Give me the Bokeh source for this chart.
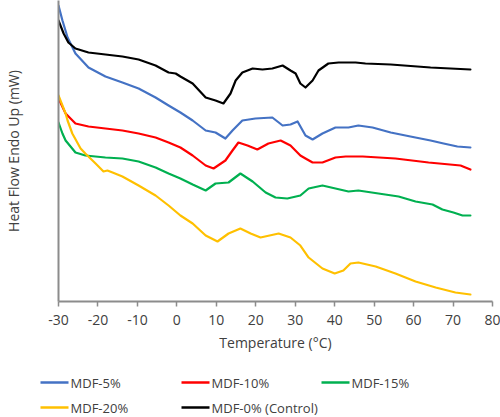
from bokeh.plotting import figure
from bokeh.layouts import column
from bokeh.models import Range1d, FixedTicker
from bokeh.core.properties import value
from bokeh.embed import file_html
from bokeh.resources import INLINE

# Temperature (°C) and heat flow (arbitrary mW offset units)
temp_0 = [-30, -28.7, -27.5, -25.7, -22.4, -18.1, -13.8, -9.7, -5.4, -2.1, -0.3, 0.9, 4.0, 7.3, 9.8,
          11.8, 13.6, 14.9, 16.6, 19.2, 21.7, 24.2, 26.8, 28.8, 30.1, 31.3, 32.6, 34.4, 35.9, 38.4,
          41.0, 45.3, 47.8, 54.2, 64.3, 74.4]
heat_0 = [281, 268, 259, 253, 249, 247, 245, 242, 236, 229, 228, 225, 218, 204, 201,
          198, 208, 221, 229, 233, 232, 233, 236, 231, 228, 218, 214, 221, 231, 238,
          239, 239, 238, 237, 234, 232]

temp_5 = [-30, -29.0, -27.7, -25.7, -22.4, -18.1, -13.8, -9.7, -5.4, -2.1, 0.9, 4.0, 7.3, 9.8, 12.3,
          14.1, 16.6, 19.9, 24.2, 26.8, 28.8, 30.6, 32.6, 34.4, 36.9, 40.2, 43.5, 46.0, 49.6, 54.2,
          59.2, 64.3, 67.6, 71.1, 74.4]
heat_5 = [296, 281, 264, 248, 234, 225, 219, 213, 204, 196, 189, 181, 171, 169, 163,
          171, 181, 183, 184, 176, 177, 180, 166, 162, 168, 174, 174, 176, 174, 169,
          165, 161, 158, 155, 154]

temp_10 = [-30, -28.2, -25.7, -22.4, -18.1, -13.8, -9.7, -5.4, -2.1, 0.9, 4.0, 7.3, 9.3, 12.3, 14.1,
           15.6, 17.9, 20.4, 23.2, 26.3, 28.8, 31.3, 32.6, 34.4, 36.9, 40.2, 42.8, 47.1, 55.4, 63.8,
           71.9, 74.4]
heat_10 = [203, 188, 178, 175, 173, 171, 168, 164, 159, 154, 146, 136, 133, 141, 151,
           159, 156, 152, 158, 161, 156, 146, 143, 139, 139, 144, 145, 145, 143, 139,
           136, 132]

temp_15 = [-30, -29.0, -28.2, -25.7, -23.2, -18.1, -13.8, -9.7, -5.4, -2.1, 0.9, 4.0, 7.3, 9.8, 13.1,
           16.1, 19.2, 22.5, 25.0, 28.0, 31.3, 33.4, 36.9, 40.2, 43.5, 46.0, 51.1, 56.2, 60.5, 64.8,
           67.3, 70.1, 72.4, 74.4]
heat_15 = [179, 168, 161, 149, 146, 144, 143, 140, 134, 128, 123, 117, 111, 118, 119,
           128, 120, 109, 104, 103, 106, 113, 116, 113, 110, 111, 108, 105, 100, 97,
           92, 89, 86, 86]

temp_20 = [-30, -28.2, -27.7, -26.5, -24.4, -23.2, -20.6, -18.6, -17.6, -16.3, -13.8, -9.7, -5.4, -2.1,
           0.9, 4.0, 7.3, 10.3, 13.1, 16.1, 18.7, 21.2, 25.8, 28.8, 31.3, 33.4, 36.9, 40.0, 42.2,
           44.0, 46.0, 50.4, 55.4, 60.5, 65.6, 70.6, 74.4]
heat_20 = [206, 188, 181, 168, 153, 148, 138, 130, 131, 129, 125, 116, 106, 96,
           86, 78, 66, 60, 68, 73, 68, 64, 68, 64, 56, 44, 33, 28, 31,
           38, 39, 35, 28, 20, 14, 9, 7]

x_ticks = [-30, -20, -10, 0, 10, 20, 30, 40, 50, 60, 70, 80]
x_tick_labels = ["-30", "-20", "-10", "0", "10", "20", "30", "40", "50", "60", "70", "80"]
series_names = ["MDF-5%", "MDF-10%", "MDF-15%", "MDF-20%", "MDF-0% (Control)"]
series_colors = ["#4472C4", "#FF0000", "#00B050", "#FFC000", "#000000"]

TEXT = "#404040"
FONT = "Open Sans"
AXIS = "#8c8c8c"

p = figure(width=500, height=365, output_backend="svg", toolbar_location=None,
           x_range=Range1d(-30, 80), y_range=Range1d(0, 301),
           min_border_left=58, min_border_right=8, min_border_top=0, min_border_bottom=64)
p.frame_align = False
p.outline_line_color = None
p.grid.visible = False

p.xaxis.ticker = FixedTicker(ticks=x_ticks)
p.xaxis.major_label_overrides = {t: s for t, s in zip(x_ticks, x_tick_labels)}
p.xaxis.minor_tick_line_color = None
p.xaxis.major_tick_in = 0
p.xaxis.major_tick_out = 5
p.xaxis.major_tick_line_color = AXIS
p.xaxis.major_tick_line_width = 1.5
p.xaxis.axis_line_color = AXIS
p.xaxis.axis_line_width = 2
p.xaxis.major_label_text_font = FONT
p.xaxis.major_label_text_font_size = "14px"
p.xaxis.major_label_text_color = TEXT
p.xaxis.major_label_standoff = 8
p.xaxis.axis_label = "Temperature (°C)"
p.xaxis.axis_label_text_font = FONT
p.xaxis.axis_label_text_font_size = "14px"
p.xaxis.axis_label_text_font_style = "normal"
p.xaxis.axis_label_text_color = TEXT
p.xaxis.axis_label_standoff = 5

p.yaxis.ticker = FixedTicker(ticks=[])
p.yaxis.minor_tick_line_color = None
p.yaxis.major_tick_line_color = None
p.yaxis.axis_line_color = AXIS
p.yaxis.axis_line_width = 2
p.yaxis.axis_label = "Heat Flow Endo Up (mW)"
p.yaxis.axis_label_text_font = FONT
p.yaxis.axis_label_text_font_size = "14px"
p.yaxis.axis_label_text_font_style = "normal"
p.yaxis.axis_label_text_color = TEXT
p.yaxis.axis_label_standoff = 36

data = [(temp_5, heat_5), (temp_10, heat_10), (temp_15, heat_15), (temp_20, heat_20), (temp_0, heat_0)]
for (t, h), c in zip(data, series_colors):
    p.line(t, h, line_color=c, line_width=2.2, line_join="round", line_cap="round")

# Legend strip below the chart (pixel-unit ranges so that entries sit like the reference's)
LEG_H = 52
pl = figure(width=500, height=LEG_H, output_backend="svg", toolbar_location=None,
            x_range=Range1d(0, 500), y_range=Range1d(0, LEG_H),
            x_axis_location=None, y_axis_location=None,
            min_border_left=0, min_border_right=0, min_border_top=0, min_border_bottom=0)
pl.frame_align = False
pl.outline_line_color = None
pl.grid.visible = False

col_x = [40, 181, 321]
row_y = [35, 10]
sw_x0, sw_x1, lab_x, sw_y = [], [], [], []
for i in range(len(series_names)):
    x0 = col_x[i % 3]
    sw_x0.append(x0)
    sw_x1.append(x0 + 28)
    lab_x.append(x0 + 30)
    sw_y.append(row_y[i // 3])
pl.segment(x0=sw_x0, y0=sw_y, x1=sw_x1, y1=sw_y, line_color=series_colors, line_width=2.5)
pl.text(x=lab_x, y=sw_y, text=series_names, text_font=value(FONT), text_font_size="13px",
        text_color=TEXT, text_baseline="middle", text_align="left")

layout = column(p, pl, spacing=0)
open("out.html", "w").write(file_html(layout, INLINE))
